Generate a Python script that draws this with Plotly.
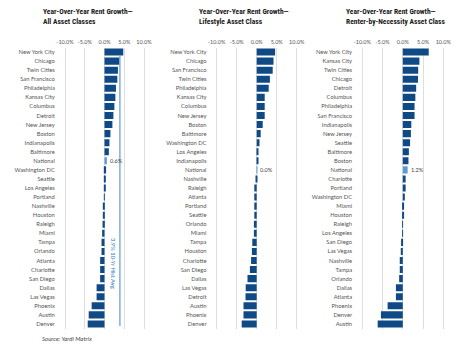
import plotly.graph_objects as go

cities_all = ["New York City", "Chicago", "Twin Cities", "San Francisco", "Philadelphia", "Kansas City",
              "Columbus", "Detroit", "New Jersey", "Boston", "Indianapolis", "Baltimore", "National",
              "Washington DC", "Seattle", "Los Angeles", "Portland", "Nashville", "Houston", "Raleigh",
              "Miami", "Tampa", "Orlando", "Atlanta", "Charlotte", "San Diego", "Dallas", "Las Vegas",
              "Phoenix", "Austin", "Denver"]
growth_all = [4.75, 3.75, 3.4, 3.25, 2.9, 2.75, 2.5, 2.25, 2.0, 1.5, 1.25, 1.1, 0.6,
              0.4, 0.3, 0.1, -0.1, -0.2, -0.4, -0.5, -0.6, -0.75, -0.75, -1.1, -1.1, -1.1,
              -2.0, -2.0, -3.25, -4.0, -4.25]

cities_life = ["New York City", "Chicago", "San Francisco", "Twin Cities", "Philadelphia", "Kansas City",
               "Columbus", "New Jersey", "Boston", "Baltimore", "Washington DC", "Los Angeles",
               "Indianapolis", "National", "Nashville", "Raleigh", "Atlanta", "Portland", "Seattle",
               "Orlando", "Miami", "Tampa", "Houston", "Charlotte", "San Diego", "Dallas", "Las Vegas",
               "Detroit", "Austin", "Phoenix", "Denver"]
growth_life = [4.6, 4.2, 4.0, 3.3, 3.0, 2.0, 2.0, 2.0, 1.5, 1.0, 0.7, 0.25, 0.25, 0.02,
               -0.2, -0.6, -0.6, -0.6, -0.6, -0.7, -0.7, -1.1, -1.2, -1.4, -1.7, -2.3, -2.75,
               -2.8, -3.3, -3.3, -3.75]

cities_rbn = ["New York City", "Kansas City", "Twin Cities", "Chicago", "Detroit", "Columbus",
              "Philadelphia", "San Francisco", "Indianapolis", "New Jersey", "Seattle", "Baltimore",
              "Boston", "National", "Charlotte", "Portland", "Washington DC", "Miami", "Houston",
              "Raleigh", "Los Angeles", "San Diego", "Las Vegas", "Nashville", "Tampa", "Orlando",
              "Dallas", "Atlanta", "Phoenix", "Denver", "Austin"]
growth_rbn = [6.4, 4.1, 3.8, 3.75, 3.3, 3.1, 2.9, 2.9, 2.1, 2.0, 1.8, 1.5, 1.4, 1.2,
              0.7, 0.7, 0.5, 0.25, 0.25, -0.15, -0.15, -0.3, -0.5, -0.75, -0.75, -0.9,
              -1.7, -1.7, -3.75, -5.4, -6.2]

national_labels = ["0.6%", "0.0%", "1.2%"]
titles = ["Year-Over-Year Rent Growth—<br>All Asset Classes",
          "Year-Over-Year Rent Growth—<br>Lifestyle Asset Class",
          "Year-Over-Year Rent Growth—<br>Renter-by-Necessity Asset Class"]
tick_vals = [-10, -5, 0, 5, 10]
tick_text = ["-10.0%", "-5.0%", "0.0%", "5.0%", "10.0%"]
hist_avg = 3.9
hist_label = "3.9% 10-Yr Hist Avg"

W, H = 459, 345
DARK = "#0f4a86"
LIGHT = "#5b9bd5"
FONT = "Lato"

panels = [(cities_all, growth_all), (cities_life, growth_life), (cities_rbn, growth_rbn)]
PAD = 0.3
edges = [(65, 144), (216.7, 296.7), (362.3, 443.3)]
x_domains = []
for a, b in edges:
    ppu = (b - a) / 20.0
    x_domains.append(((a - PAD * ppu) / W, (b + PAD * ppu) / W))
y_domain = (1 - 328.5 / H, 1 - 47.5 / H)
title_x = [41, 196.5, 344]

fig = go.Figure()
for i, (cats, vals) in enumerate(panels):
    n = "" if i == 0 else str(i + 1)
    colors = [LIGHT if c == "National" else DARK for c in cats]
    fig.add_trace(go.Bar(
        y=cats, x=vals, orientation="h", marker=dict(color=colors, line=dict(width=0)),
        xaxis="x" + n, yaxis="y" + n, showlegend=False, hoverinfo="x+y"))
    fig.update_layout(**{
        "xaxis" + n: dict(domain=list(x_domains[i]), range=[-10 - PAD, 10 + PAD], side="top",
                          tickmode="array", tickvals=tick_vals, ticktext=tick_text, showgrid=True,
                          gridcolor="#dedede", gridwidth=1, zeroline=False, showline=False,
                          ticks="", tickfont=dict(family=FONT, size=5.5, color="#555555"),
                          anchor="y" + n, fixedrange=True, ticklabelstandoff=1,
                          automargin=False, ticklabeloverflow="allow"),
        "yaxis" + n: dict(domain=list(y_domain), autorange="reversed", type="category",
                          showgrid=False, zeroline=False, showline=False, ticks="",
                          tickfont=dict(family=FONT, size=5.8, color="#555555"),
                          anchor="x" + n, ticklabelstandoff=8, fixedrange=True,
                          automargin=False),
    })
    nat_val = vals[cats.index("National")]
    fig.add_annotation(x=nat_val, y="National", xref="x" + n, yref="y" + n,
                       text=national_labels[i], showarrow=False, xanchor="left",
                       xshift=1, font=dict(family=FONT, size=5.6, color="#444444"))
    fig.add_annotation(x=title_x[i] / W, y=1 - 5 / H, xref="paper", yref="paper",
                       text=titles[i], showarrow=False, xanchor="left", yanchor="top",
                       align="left", font=dict(family="Roboto Condensed, Liberation Sans Narrow, Roboto",
                                               size=7.5, color="#1a1a1a", weight="bold"))

# historical average line on first panel
fig.add_shape(type="line", xref="x", yref="paper", x0=hist_avg, x1=hist_avg,
              y0=1 - 326 / H, y1=1 - 56 / H, line=dict(color=LIGHT, width=1.2))
fig.add_annotation(x=hist_avg, y=1 - 291 / H, xref="x", yref="paper", text=hist_label,
                   textangle=90, showarrow=False, xanchor="right", xshift=-1,
                   font=dict(family=FONT, size=5.8, color="#2f78c4"))

fig.add_annotation(x=40 / W, y=1 - 338 / H, xref="paper", yref="paper",
                   text="<i>Source: Yardi Matrix</i>", showarrow=False, xanchor="left",
                   yanchor="middle", font=dict(family=FONT, size=6, color="#444444"))

fig.update_layout(width=W, height=H, margin=dict(l=0, r=0, t=0, b=0),
                  plot_bgcolor="white", paper_bgcolor="white", bargap=0.22)
fig.write_html("out.html")
